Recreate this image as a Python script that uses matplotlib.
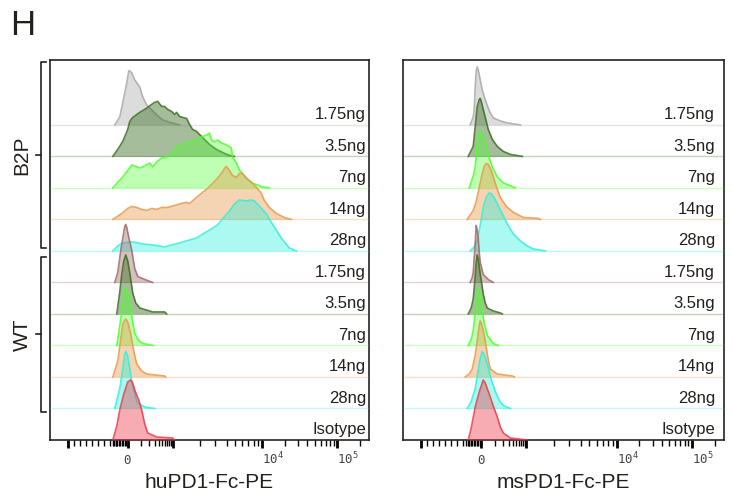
import matplotlib.pyplot as plt
import matplotlib.transforms as mtransforms
import numpy as np

plt.rcParams['font.family'] = ['Liberation Sans', 'DejaVu Sans']

# stacked histogram rows, top to bottom
row_labels = ['1.75ng', '3.5ng', '7ng', '14ng', '28ng',
              '1.75ng', '3.5ng', '7ng', '14ng', '28ng', 'Isotype']
groups = ['B2P', 'WT']
panels = ['huPD1-Fc-PE', 'msPD1-Fc-PE']

# (display channel, count) pairs, count normalised to mode
hu_b2p_175 = [(65, 0), (70, 8), (73, 22), (77, 42), (79, 54), (80, 54), (82, 52), (85, 45), (90, 38),
              (93, 28), (97, 20), (102, 15), (107, 10), (113, 5), (122, 2), (130, 0)]
hu_b2p_35 = [(63, 0), (68, 7), (73, 15), (78, 27), (80, 35), (83, 39), (90, 44), (95, 47), (98, 49),
             (102, 52), (105, 54), (108, 55), (112, 50), (115, 50), (118, 47), (122, 45), (125, 42),
             (127, 44), (130, 40), (133, 39), (137, 38), (140, 32), (143, 27), (147, 25), (150, 22),
             (155, 17), (160, 12), (167, 7), (173, 4), (180, 1), (185, 0)]
hu_b2p_7 = [(63, 0), (73, 11), (82, 23), (85, 22), (90, 20), (93, 21), (100, 25), (103, 21), (107, 26),
            (112, 30), (117, 31), (123, 35), (127, 41), (130, 42), (135, 45), (140, 45), (147, 48),
            (152, 51), (157, 53), (160, 55), (162, 48), (165, 46), (168, 48), (172, 45), (177, 43),
            (182, 40), (183, 31), (187, 25), (190, 18), (197, 10), (203, 5), (213, 1), (220, 0)]
hu_b2p_14 = [(63, 0), (72, 6), (78, 11), (82, 13), (87, 12), (92, 10), (97, 9), (102, 11), (107, 10),
             (112, 12), (118, 12), (125, 14), (132, 16), (137, 17), (140, 16), (147, 22), (153, 27),
             (158, 31), (163, 36), (168, 41), (172, 46), (175, 51), (177, 53), (180, 49), (183, 44),
             (187, 42), (190, 46), (193, 46), (197, 41), (202, 37), (207, 32), (212, 26), (215, 19),
             (220, 12), (227, 6), (235, 2), (242, 0)]
hu_b2p_28 = [(63, 0), (68, 5), (73, 8), (83, 9), (93, 7), (103, 6), (115, 4), (122, 6), (130, 8),
             (140, 11), (147, 13), (155, 18), (162, 22), (168, 26), (173, 32), (180, 40), (185, 47),
             (190, 51), (197, 50), (202, 51), (205, 50), (210, 45), (217, 37), (223, 27), (232, 13),
             (240, 3), (247, 0)]
hu_wt_175 = [(65, 0), (68, 10), (71, 32), (74, 50), (75, 56), (76, 58), (77, 55), (79, 45), (82, 32),
             (85, 14), (88, 6), (95, 3), (103, 0)]
hu_wt_35 = [(67, 0), (70, 22), (72, 40), (74, 53), (76, 59), (78, 53), (80, 41), (83, 21), (86, 11),
            (90, 6), (103, 2), (115, 2), (117, 0)]
hu_wt_7 = [(67, 0), (70, 20), (73, 41), (75, 54), (76, 57), (78, 52), (80, 41), (85, 12), (89, 5),
           (93, 2), (103, 0)]
hu_wt_14 = [(63, 0), (68, 16), (71, 38), (73, 53), (76, 58), (78, 55), (81, 43), (84, 26), (87, 13),
            (92, 6), (97, 3), (115, 1), (116, 0)]
hu_wt_28 = [(65, 0), (70, 20), (73, 40), (75, 54), (76, 57), (78, 52), (82, 27), (87, 7), (92, 3),
            (97, 1), (105, 0)]
hu_iso = [(63, 0), (67, 14), (70, 30), (74, 46), (78, 58), (81, 60), (83, 57), (85, 50), (89, 40),
          (92, 30), (95, 16), (98, 7), (107, 3), (123, 2), (125, 0)]

ms_b2p_175 = [(67, 0), (70, 8), (71, 15), (72, 38), (73, 54), (74, 58), (75, 55), (76, 50), (79, 35),
              (82, 25), (86, 14), (90, 7), (97, 4), (104, 2), (117, 0)]
ms_b2p_35 = [(65, 0), (70, 10), (72, 30), (74, 50), (76, 57), (77, 58), (78, 55), (80, 47), (85, 27),
             (89, 17), (94, 10), (100, 5), (107, 2), (119, 0)]
ms_b2p_7 = [(66, 0), (70, 12), (72, 21), (74, 45), (75, 53), (77, 56), (78, 56), (80, 51), (82, 45),
            (85, 33), (89, 21), (94, 11), (100, 5), (110, 1), (112, 0)]
ms_b2p_14 = [(64, 0), (70, 9), (73, 18), (76, 32), (79, 46), (81, 53), (83, 56), (85, 55), (87, 51),
             (89, 46), (93, 33), (97, 22), (103, 13), (110, 7), (120, 2), (135, 1), (137, 0)]
ms_b2p_28 = [(67, 0), (71, 4), (74, 10), (77, 26), (80, 43), (83, 54), (86, 58), (88, 57), (91, 53),
             (94, 47), (99, 37), (104, 27), (110, 17), (117, 10), (124, 5), (130, 2), (142, 0)]
ms_wt_175 = [(67, 0), (69, 5), (70, 10), (71, 25), (72, 40), (73, 57), (74, 52), (75, 45), (76, 30),
             (77, 20), (80, 8), (85, 3), (90, 0)]
ms_wt_35 = [(65, 0), (68, 6), (70, 15), (72, 38), (73, 52), (74, 59), (75, 55), (77, 40), (80, 20),
            (82, 11), (84, 6), (90, 3), (97, 1), (99, 0)]
ms_wt_7 = [(65, 0), (68, 6), (70, 15), (72, 33), (74, 52), (75, 57), (76, 55), (79, 35), (81, 22),
           (84, 10), (90, 2), (95, 0)]
ms_wt_14 = [(62, 0), (66, 3), (69, 8), (72, 22), (74, 36), (76, 52), (77, 56), (78, 54), (80, 46),
            (82, 36), (85, 17), (87, 8), (94, 3), (109, 1), (111, 0)]
ms_wt_28 = [(64, 0), (68, 7), (72, 20), (75, 38), (77, 50), (79, 57), (81, 54), (84, 44), (88, 29),
            (92, 17), (96, 8), (100, 3), (107, 0)]
ms_iso = [(65, 0), (68, 12), (72, 33), (76, 48), (79, 57), (80, 60), (82, 57), (87, 43), (90, 34),
          (94, 23), (97, 13), (100, 7), (107, 2), (124, 0)]

hu_rows = [hu_b2p_175, hu_b2p_35, hu_b2p_7, hu_b2p_14, hu_b2p_28,
           hu_wt_175, hu_wt_35, hu_wt_7, hu_wt_14, hu_wt_28, hu_iso]
ms_rows = [ms_b2p_175, ms_b2p_35, ms_b2p_7, ms_b2p_14, ms_b2p_28,
           ms_wt_175, ms_wt_35, ms_wt_7, ms_wt_14, ms_wt_28, ms_iso]

row_colors = ['#a8a8a8', '#3b6e22', '#4dff2e', '#e8994a', '#2ef0dc',
              '#a06a6a', '#3b6e22', '#4dff2e', '#e8994a', '#2ef0dc', '#ee3a4a']
fill_alpha = [0.4, 0.45, 0.36, 0.42, 0.4, 0.42, 0.45, 0.36, 0.42, 0.4, 0.42]

COUNTS_PER_ROW = 31.5
N_ROWS = len(row_labels)
Y_TOP = 12.06


def chan(v):
    # biexponential-style display transform used by the axis
    if v >= 1e4:
        return 213 + 75 * np.log10(v / 1e4)
    if v >= 1e3:
        return 123 + 90 * np.log10(v / 1e3)
    if v >= 0:
        return 78 + 45 * np.arcsinh(v / 100) / np.arcsinh(10)
    return 78 + 0.06 * v


major_vals = [-1e3, 0, 1e3, 1e4, 1e5]
minor_vals = ([-900 + 100 * i for i in range(8)] + [-250 + 25 * i for i in range(10)]
              + [100 * i for i in range(1, 10)] + [1e3 * i for i in range(2, 10)]
              + [1e4 * i for i in range(2, 10)] + [2e5])

fig = plt.figure(figsize=(7.32, 4.99), dpi=100)
ax_hu = fig.add_axes([50 / 732, 59 / 499, 319 / 732, 380 / 499])
ax_ms = fig.add_axes([403 / 732, 59 / 499, 321 / 732, 380 / 499])

for ax, rows, xlab, label_x in [(ax_hu, hu_rows, panels[0], 317), (ax_ms, ms_rows, panels[1], 311)]:
    for i, (pts, col, fa, lab) in enumerate(zip(rows, row_colors, fill_alpha, row_labels)):
        base = N_ROWS - 1 - i
        x = np.array([p[0] for p in pts], dtype=float)
        y = base + np.array([p[1] for p in pts], dtype=float) / COUNTS_PER_ROW
        ax.axhline(base, color=col, alpha=0.3, lw=1, zorder=2 + i)
        ax.fill_between(x, base, y, color=col, alpha=fa, lw=0, zorder=2 + i)
        ax.plot(x, y, color=col, lw=1.2, alpha=0.85, zorder=2 + i)
        ax.text(label_x, base + 0.33, lab, ha='right', va='center', fontsize=12,
                color='#231f1c', zorder=30)

    ax.set_xlim(0, 320)
    ax.set_ylim(0, Y_TOP)
    ax.set_yticks([])
    ax.set_xticks([chan(v) for v in major_vals])
    ax.set_xticks([chan(v) for v in minor_vals], minor=True)
    ax.set_xticklabels([])
    ax.tick_params(axis='x', which='major', length=6, width=2, color='black')
    ax.tick_params(axis='x', which='minor', length=4, width=1, color='black')
    for s in ax.spines.values():
        s.set_linewidth(1.2)
        s.set_color('#222222')

    tr = mtransforms.blended_transform_factory(ax.transData, ax.transAxes)
    ax.text(chan(0), -0.063, r'$\mathtt{0}$', ha='center', va='baseline', fontsize=9,
            color='#444444', transform=tr)
    ax.text(chan(1e4), -0.063, r'$\mathtt{10^4}$', ha='left', va='baseline', fontsize=9,
            color='#444444', transform=tr)
    ax.text(chan(1e5), -0.063, r'$\mathtt{10^5}$', ha='left', va='baseline', fontsize=9,
            color='#444444', transform=tr)
    ax.text(0.5, -0.126, xlab, ha='center', va='baseline', fontsize=15,
            color='#231f1c', transform=ax.transAxes)

# group brackets on the left of the first panel
tr = mtransforms.blended_transform_factory(ax_hu.transAxes, ax_hu.transData)
for name, top, bottom in [(groups[0], 12.0, 6.1), (groups[1], 5.81, 0.89)]:
    mid = (top + bottom) / 2
    ax_hu.plot([-0.0125, -0.028, -0.028, -0.0125], [top, top, bottom, bottom],
               color='#231f1c', lw=1.2, transform=tr, clip_on=False)
    ax_hu.plot([-0.028, -0.044], [mid, mid], color='#231f1c', lw=1.2,
               transform=tr, clip_on=False)
    ax_hu.text(-0.088, mid, name, rotation=90, ha='center', va='center',
               fontsize=15, color='#231f1c', transform=tr)

fig.text(10 / 732, 1 - 35 / 499, 'H', fontsize=25, ha='left', va='baseline', color='#231f1c')

fig.savefig('out.png', dpi=100)
